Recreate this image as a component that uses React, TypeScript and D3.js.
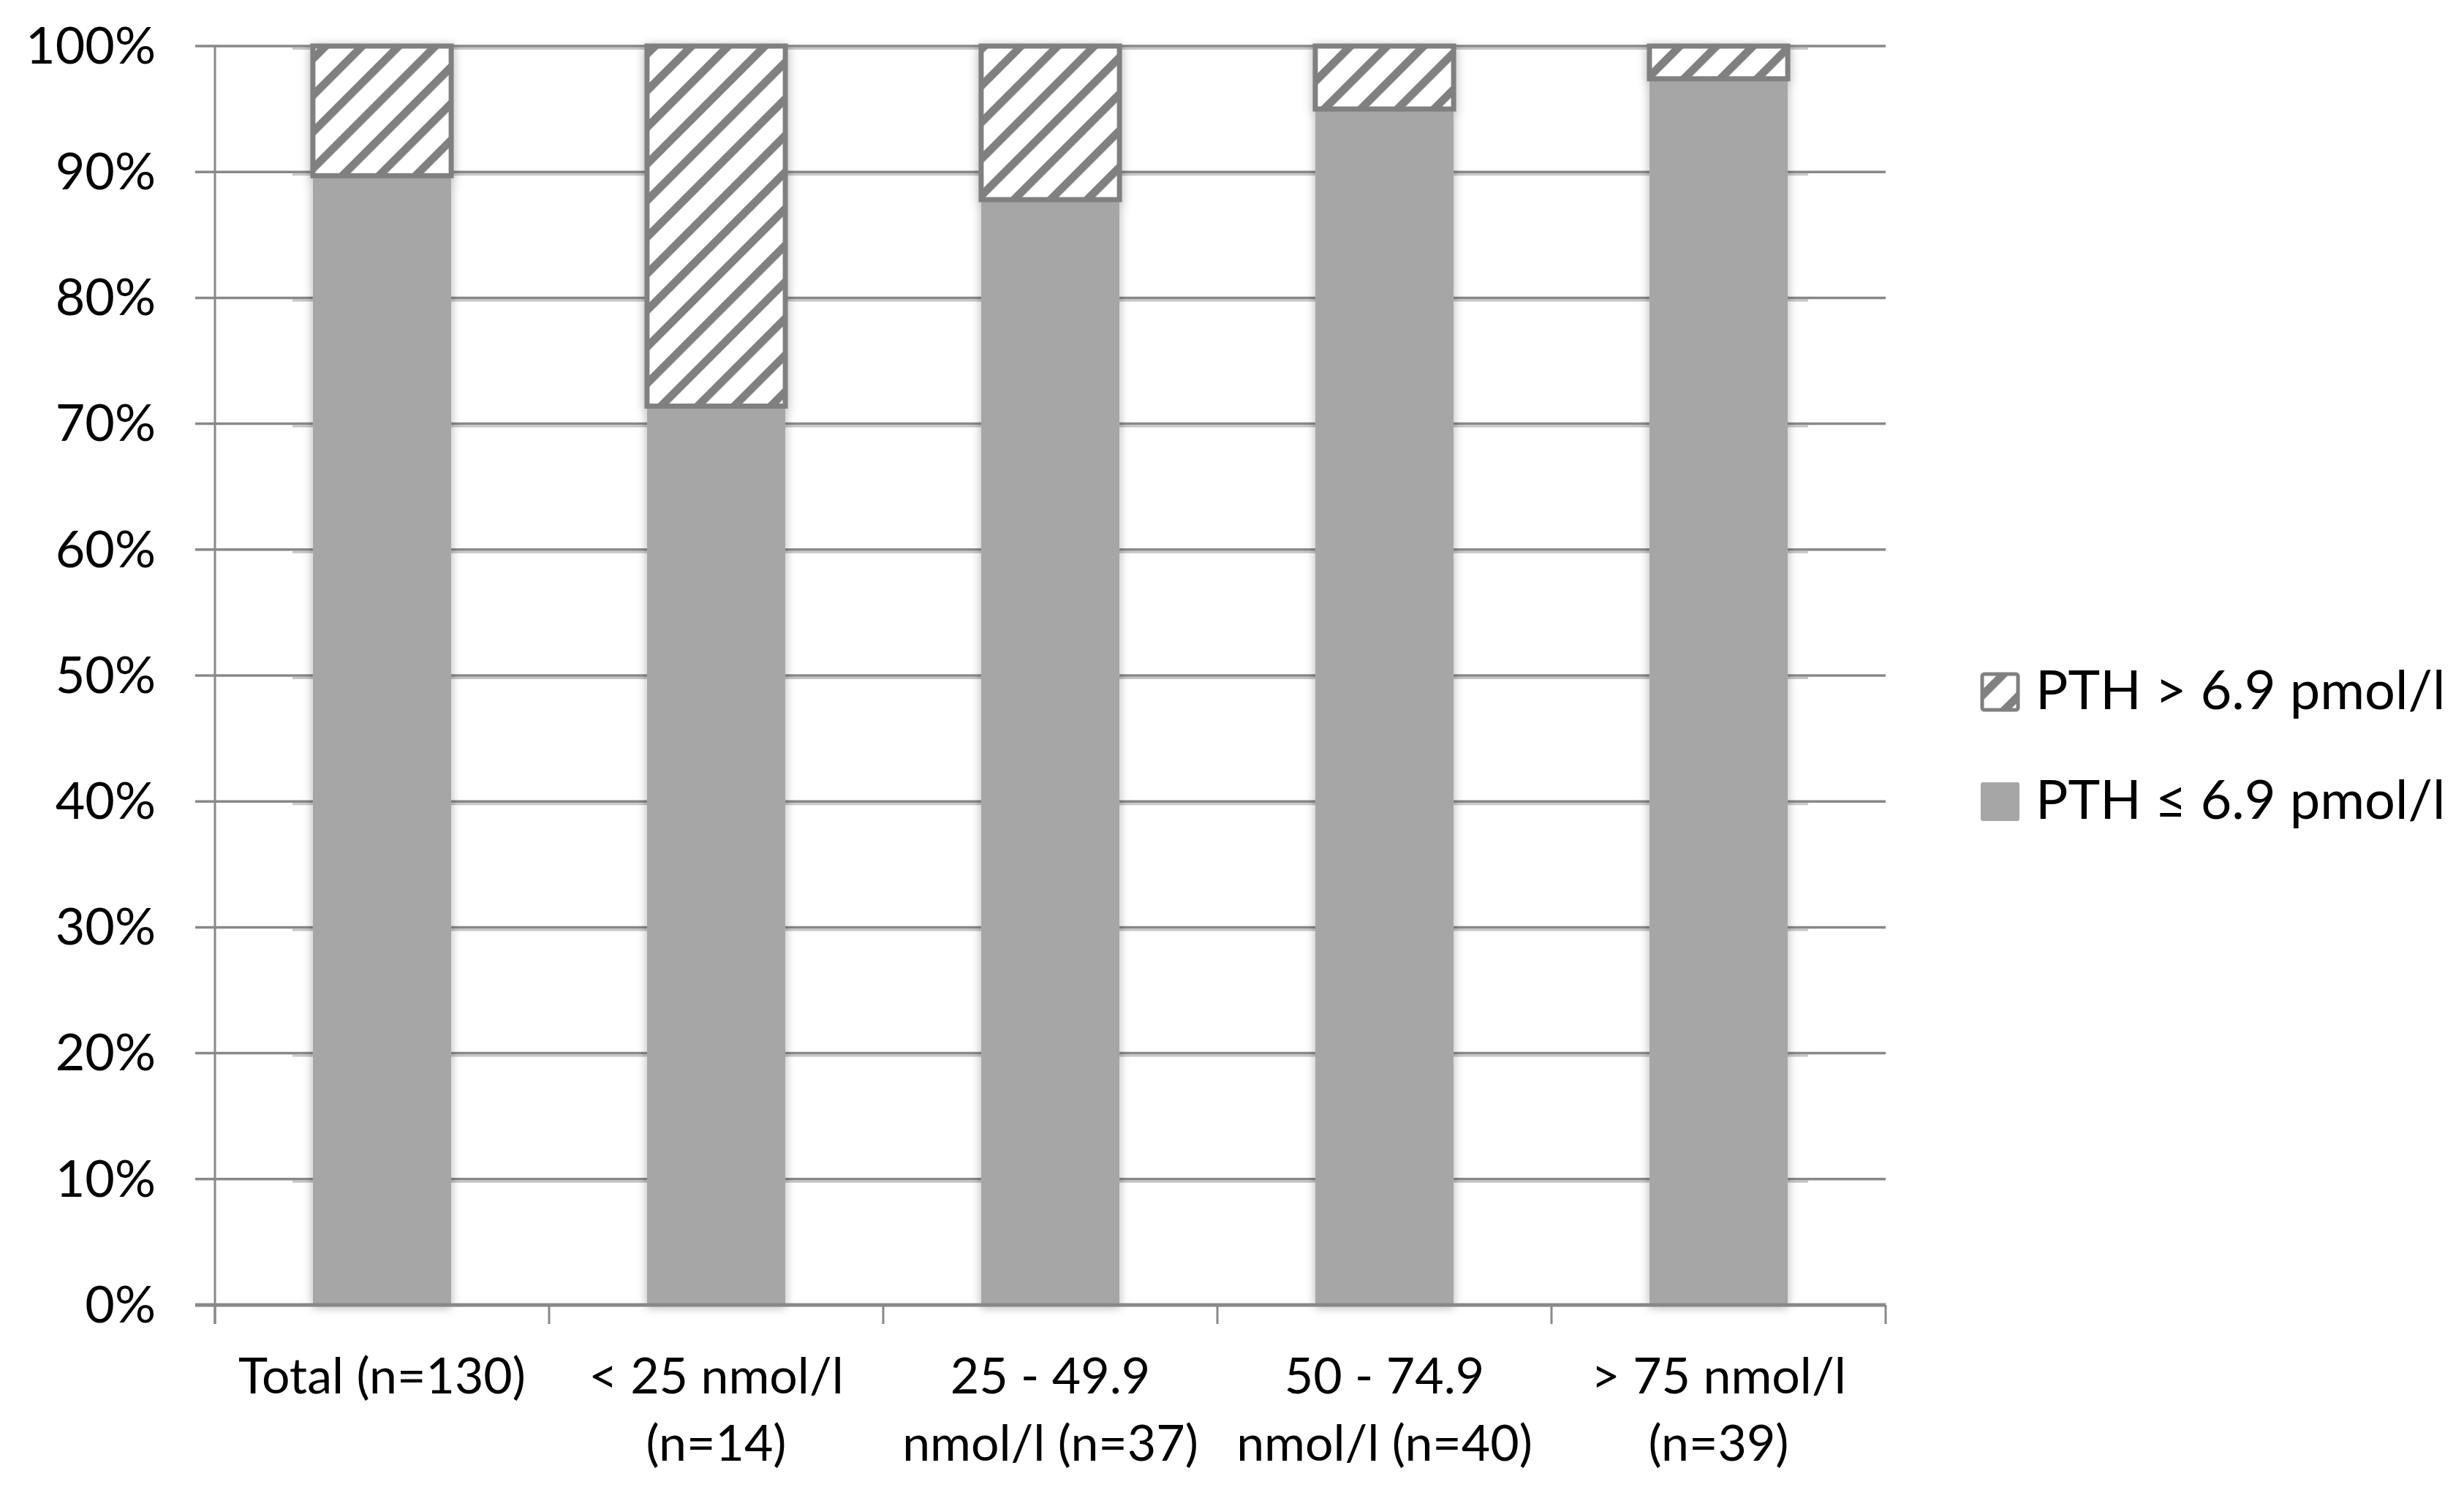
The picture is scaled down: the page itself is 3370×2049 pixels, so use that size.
import React from 'react';
import * as d3 from 'd3';

// values (percent of group)
const categories = ['total', 'lt25', '25-49.9', '50-74.9', 'gt75'];
const categoryLines: string[][] = [
  ['Total (n=130)'],
  ['< 25 nmol/l', '(n=14)'],
  ['25 - 49.9', 'nmol/l (n=37)'],
  ['50 - 74.9', 'nmol/l (n=40)'],
  ['> 75 nmol/l', '(n=39)'],
];
const pthLow = [89.7, 71.4, 87.8, 95.0, 97.4];
const pthHigh = [10.3, 28.6, 12.2, 5.0, 2.6];
const yTicks = [0, 10, 20, 30, 40, 50, 60, 70, 80, 90, 100];
const legendLabels = ['PTH > 6.9 pmol/l', 'PTH \u2264 6.9 pmol/l'];

const W = 3370;
const H = 2049;
const FONT = 'Lato, "Open Sans", sans-serif';
const AXIS = '#888888';
const HATCH = '#808080';
const GRAY = '#a6a6a6';

const App: React.FC = () => {
  const plot = { left: 294, right: 2579, top: 63, bottom: 1785 };

  const x = d3.scaleBand<string>()
    .domain(categories)
    .range([plot.left, plot.right])
    .paddingInner(0.586)
    .paddingOuter(0.293);

  const y = d3.scaleLinear()
    .domain([0, 100])
    .range([plot.bottom, plot.top]);

  const step = x.step();
  const bw = x.bandwidth();
  const boundaries = d3.range(categories.length + 1).map((i) => plot.left + i * step);

  return (
    <svg
      width={W}
      height={H}
      viewBox={`0 0 ${W} ${H}`}
      style={{ position: 'absolute', left: 0, top: 0, background: '#fff' }}
    >
      <defs>
        <pattern id="hatch" patternUnits="userSpaceOnUse" width={35.4} height={35.4} patternTransform="rotate(45)">
          <rect width={35.4} height={35.4} fill="#fff" />
          <rect width={11} height={35.4} fill={HATCH} />
        </pattern>
        <filter id="shadow" x="-30%" y="-10%" width="160%" height="120%">
          <feDropShadow dx={0} dy={3} stdDeviation={7} floodColor="#000" floodOpacity={0.3} />
        </filter>
      </defs>
      <rect width={W} height={H} fill="#fff" />

      {/* gridlines */}
      {yTicks.filter((t) => t > 0).map((t) => (
        <g key={`g${t}`}>
          <line x1={400} x2={2473} y1={y(t) + 3.5} y2={y(t) + 3.5} stroke="#c6c6c6" strokeWidth={3} />
          <line x1={267} x2={plot.right} y1={y(t)} y2={y(t)} stroke={AXIS} strokeWidth={3.5} />
        </g>
      ))}

      {/* y axis */}
      <line x1={plot.left} x2={plot.left} y1={plot.top} y2={plot.bottom + 26} stroke={AXIS} strokeWidth={3} />
      <line x1={267} x2={plot.left} y1={y(0)} y2={y(0)} stroke={AXIS} strokeWidth={4} />
      {yTicks.map((t) => (
        <text
          key={`yl${t}`}
          x={213}
          y={y(t)}
          dy="0.34em"
          textAnchor="end"
          fontFamily={FONT}
          fontSize={70}
          fill="#000"
        >
          {`${t}%`}
        </text>
      ))}

      {/* bars */}
      {categories.map((c, i) => (
        <g key={c} filter="url(#shadow)">
          <rect x={x(c)} y={y(pthLow[i])} width={bw} height={y(0) - y(pthLow[i])} fill={GRAY} />
          <rect
            x={x(c)}
            y={y(pthLow[i] + pthHigh[i])}
            width={bw}
            height={y(pthLow[i]) - y(pthLow[i] + pthHigh[i])}
            fill="url(#hatch)"
            stroke={HATCH}
            strokeWidth={7}
          />
        </g>
      ))}

      {/* x axis */}
      <line x1={267} x2={plot.right} y1={y(0)} y2={y(0)} stroke={AXIS} strokeWidth={5} />
      {boundaries.map((bx, i) => (
        <line key={`xt${i}`} x1={bx} x2={bx} y1={y(0)} y2={y(0) + 26} stroke={AXIS} strokeWidth={3} />
      ))}
      {categories.map((c, i) => (
        <text
          key={`xl${c}`}
          x={(x(c) ?? 0) + bw / 2}
          textAnchor="middle"
          fontFamily={FONT}
          fontSize={68}
          fill="#000"
        >
          {categoryLines[i].map((line, j) => (
            <tspan key={j} x={(x(c) ?? 0) + bw / 2} y={1906 + j * 92}>{line}</tspan>
          ))}
        </text>
      ))}

      {/* legend */}
      <g>
        <rect x={2711} y={922} width={49} height={49} rx={3} fill="url(#hatch)" stroke={HATCH} strokeWidth={5} />
        <text x={2784} y={970} fontFamily={FONT} fontSize={74} fill="#000">{legendLabels[0]}</text>
        <rect x={2709} y={1070} width={53} height={53} rx={3} fill={GRAY} />
        <text x={2784} y={1120} fontFamily={FONT} fontSize={74} fill="#000">{legendLabels[1]}</text>
      </g>
    </svg>
  );
};

export default App;
